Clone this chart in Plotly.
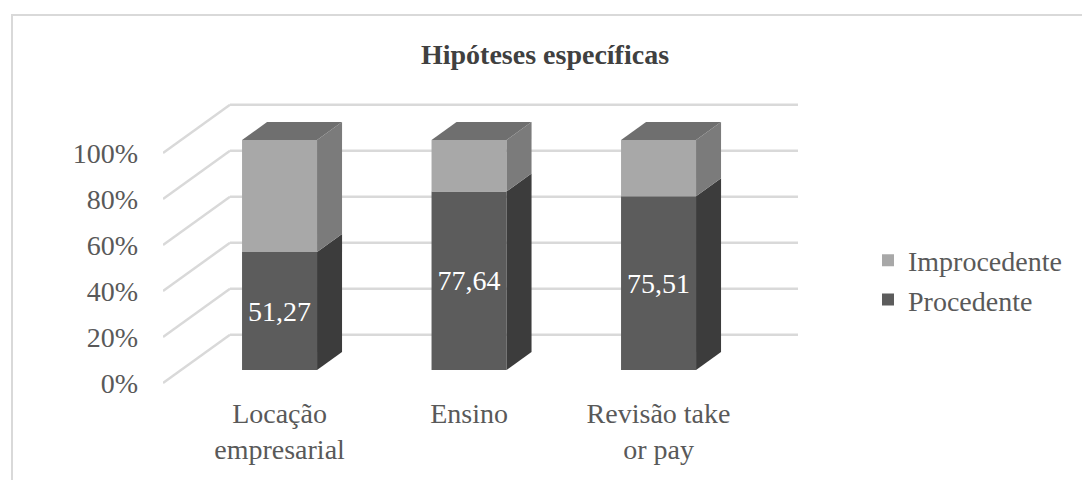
import plotly.graph_objects as go

# Data
categories = ["Locação<br>empresarial", "Ensino", "Revisão take<br>or pay"]
procedente = [51.27, 77.64, 75.51]
improcedente = [round(100 - p, 2) for p in procedente]
y_ticks = [0, 20, 40, 60, 80, 100]
y_tick_labels = ["0%", "20%", "40%", "60%", "80%", "100%"]

# Layout geometry (pixels)
W, H = 1082, 480
ML, MR, MT, MB = 163, 284, 100, 88
PLOT_W = W - ML - MR
PLOT_H = H - MT - MB
PX_PER_CAT = 189.5
PX_PER_PCT = 2.3
X_MIN = -0.52
X_MAX = X_MIN + PLOT_W / PX_PER_CAT
Y_MIN = -9 / PX_PER_PCT
Y_MAX = Y_MIN + PLOT_H / PX_PER_PCT

# oblique projection: depth in px -> shift in data units
SLOPE = 0.72


def depth_shift(px):
    return px / PX_PER_CAT, SLOPE * px / PX_PER_PCT


BAR_FRONT = depth_shift(18)
BAR_DEPTH = depth_shift(25)
WALL = depth_shift(67)
BAR_W = 75 / PX_PER_CAT

FONT = "Liberation Serif, Times New Roman, serif"
GRID = "#d9d9d9"
C_PROC, C_PROC_SIDE = "#5c5c5c", "#3c3c3c"
C_IMP, C_IMP_SIDE, C_TOP = "#a8a8a8", "#7b7b7b", "#6f6f6f"

fig = go.Figure()


def poly(xs, ys, color):
    fig.add_trace(go.Scatter(
        x=xs + [xs[0]], y=ys + [ys[0]], mode="lines", fill="toself",
        fillcolor=color, line=dict(width=0, color=color),
        hoverinfo="skip", showlegend=False))


# back wall and side wall gridlines, kept beneath the bars
shapes = []
for v in y_ticks:
    shapes.append(dict(type="line", xref="x", yref="y", layer="below",
                       x0=X_MIN, y0=v, x1=X_MIN + WALL[0], y1=v + WALL[1],
                       line=dict(color=GRID, width=2.5)))
    shapes.append(dict(type="line", xref="x", yref="y", layer="below",
                       x0=X_MIN + WALL[0], y0=v + WALL[1], x1=X_MAX, y1=v + WALL[1],
                       line=dict(color=GRID, width=2.5)))

# bar side and top faces
base = BAR_FRONT[1]
centers = [i + BAR_FRONT[0] for i in range(len(categories))]
for c, p in zip(centers, procedente):
    xl, xr = c - BAR_W / 2, c + BAR_W / 2
    dx, dy = BAR_DEPTH
    poly([xr, xr + dx, xr + dx, xr], [base, base + dy, base + p + dy, base + p], C_PROC_SIDE)
    poly([xr, xr + dx, xr + dx, xr], [base + p, base + p + dy, base + 100 + dy, base + 100], C_IMP_SIDE)
    poly([xl, xl + dx, xr + dx, xr], [base + 100, base + 100 + dy, base + 100 + dy, base + 100], C_TOP)

# front faces
fig.add_trace(go.Bar(
    x=centers, y=procedente, base=[base] * 3, width=BAR_W, name="Procedente",
    marker=dict(color=C_PROC, line=dict(width=0)), legendrank=2,
    texttemplate="%{y:.2f}", textposition="inside", insidetextanchor="middle",
    textangle=0, textfont=dict(color="white", size=28, family=FONT),
    hoverinfo="skip"))
fig.add_trace(go.Bar(
    x=centers, y=improcedente, base=[base + p for p in procedente], width=BAR_W,
    name="Improcedente", marker=dict(color=C_IMP, line=dict(width=0)),
    legendrank=1, hoverinfo="skip"))


def paper_x(px):
    return (px - ML) / PLOT_W


def paper_y(py):
    return (H - MB - py) / PLOT_H


shapes.append(dict(type="rect", xref="paper", yref="paper",
                   x0=paper_x(12), x1=paper_x(1095), y0=paper_y(15), y1=paper_y(495),
                   line=dict(color="#d9d9d9", width=2), layer="below"))

fig.update_layout(
    width=W, height=H, margin=dict(l=ML, r=MR, t=MT, b=MB),
    paper_bgcolor="white", plot_bgcolor="white",
    barmode="overlay", separators=",.",
    font=dict(family=FONT, color="#595959", size=27),
    title=dict(text="<b>Hipóteses específicas</b>", x=545 / W, xref="container",
               y=1 - 54 / H, yref="container", yanchor="middle", xanchor="center",
               font=dict(size=28, color="#404040", family=FONT)),
    xaxis=dict(range=[X_MIN, X_MAX], tickvals=centers, ticktext=categories,
               showgrid=False, zeroline=False, showline=False, ticks="",
               ticklabelstandoff=2, tickfont=dict(size=28, color="#595959")),
    yaxis=dict(range=[Y_MIN, Y_MAX], tickvals=y_ticks, ticktext=y_tick_labels,
               showgrid=False, zeroline=False, showline=False, ticks="",
               ticklabelstandoff=24, tickfont=dict(size=28, color="#595959")),
    legend=dict(x=paper_x(868), xanchor="left", y=paper_y(280), yanchor="middle",
                traceorder="normal", tracegroupgap=10, itemsizing="constant",
                font=dict(size=28, color="#595959"), bgcolor="rgba(0,0,0,0)"),
    showlegend=True,
    shapes=shapes,
)

fig.write_html("out.html")
